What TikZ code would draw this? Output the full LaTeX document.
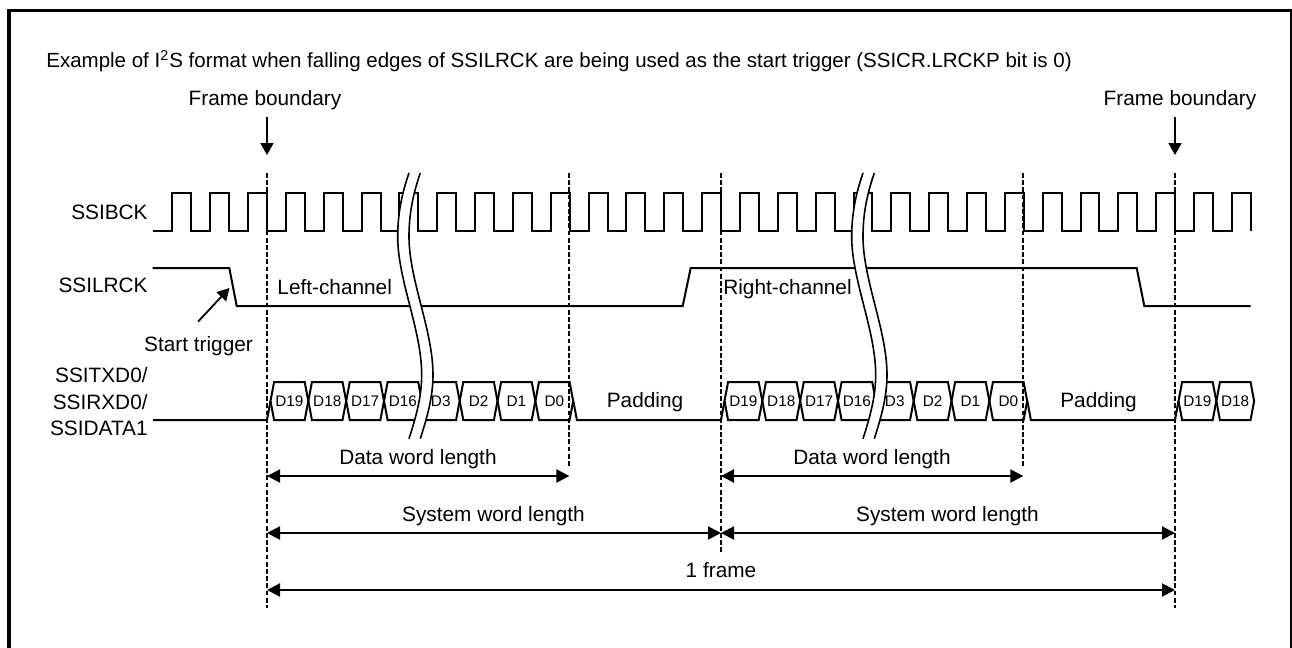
\documentclass[tikz,border=0pt]{standalone}
\usepackage{fontspec}
\setmainfont{Liberation Sans}
\usetikzlibrary{arrows.meta, positioning}
\tikzset{
  lab/.style={font=\fontsize{10.4}{13}\selectfont, inner sep=0pt, text height=7.5pt, text depth=0pt},
  dlab/.style={font=\fontsize{7.65}{9}\selectfont, inner sep=0pt, text height=5.5pt, text depth=0pt},
  wave/.style={line width=1pt, line join=miter},
  guide/.style={line width=1pt, dash pattern=on 2.4pt off 1.2pt},
  dimarrow/.style={line width=1pt, {Triangle[length=6.5pt,width=6.5pt]}-{Triangle[length=6.5pt,width=6.5pt]}},
  downarrow/.style={line width=0.9pt, -{Triangle[length=6pt,width=6.5pt]}},
}
\begin{document}
\begin{tikzpicture}[x=0.5pt, y=-0.5pt]
  \useasboundingbox (0,0) rectangle (1292,648);
  % outer frame
  \draw[line width=1.8pt] (9,10.5) rectangle (1291.5,660);

  % title
  \node[lab, font=\fontsize{10.25}{13}\selectfont, anchor=west] (title) at (46,60) {Example of I\textsuperscript{2}S format when falling edges of SSILRCK are being used as the start trigger (SSICR.LRCKP bit is 0)};

  % guide lines
  \foreach \gname/\gx/\gy in {A/267/608, B/569.4/467, C/721/552.7, D/1023.4/467, E/1175/608} {
    \coordinate (top\gname) at (\gx,173);
    \coordinate (bot\gname) at (\gx,\gy);
    \draw[guide] (top\gname) -- (bot\gname);
  }

  % frame boundary
  \node[lab] (fbleft) at (265,98) {Frame boundary};
  \node[lab] (fbright) at (1180,98) {Frame boundary};
  \coordinate (fbleftend) at (267,155);
  \coordinate (fbrightend) at (1175,155);
  \draw[downarrow] (fbleftend |- 0,116.5) -- (fbleftend);
  \draw[downarrow] (fbrightend |- 0,116.5) -- (fbrightend);

  % SSIBCK
  \node[lab, anchor=east] (bck) at (148,211.5) {SSIBCK};
  \draw[wave] (152.7,230.7) foreach \n in {-5,-3,...,51} {
    -- (267+18.92*\n,230.7) -- (267+18.92*\n,192.7)
    -- (267+18.92*\n+18.92,192.7) -- (267+18.92*\n+18.92,230.7) };

  % SSILRCK
  \node[lab, anchor=east] (lrck) at (148,284.5) {SSILRCK};
  \draw[wave] (152.7,268) -- (229.3,268) -- (236.7,306) -- (682.7,306) -- (690.7,268)
    -- (1136.7,268) -- (1144.3,306) -- (1250.7,306);

  % start trigger
  \node[lab] (trigger) at (198.5,343.5) {Start trigger};
  \coordinate (triggerfrom) at (198,321.7);
  \coordinate (triggerto) at (229.5,288);
  \draw[downarrow] (triggerfrom) -- (triggerto);

  % data line
  \node[lab, anchor=east] (txd) at (148,375) {SSITXD0/};
  \node[lab, anchor=east] (rxd) at (148,401.7) {SSIRXD0/};
  \node[lab, anchor=east] (data) at (148,428.4) {SSIDATA1};
  \draw[wave] (153,420) -- (267,420) -- (270.5,401);
  \foreach \bx in {0,454} {
    \foreach \i in {0,...,7} {
      \draw[wave] (270.5+\bx+37.84*\i,401) -- (274.1+\bx+37.84*\i,382) -- (304.7+\bx+37.84*\i,382)
        -- (308.3+\bx+37.84*\i,401) -- (304.7+\bx+37.84*\i,420) -- (274.1+\bx+37.84*\i,420) -- cycle;
    }
    \draw[wave] (573.3+\bx,401) -- (576.9+\bx,420) -- (721+\bx,420) -- (724.5+\bx,401);
  }
  \foreach \i in {0,1} {
    \draw[wave] (1178.5+37.84*\i,401) -- (1182.1+37.84*\i,382) -- (1212.7+37.84*\i,382)
      -- (1216.3+37.84*\i,401) -- (1212.7+37.84*\i,420) -- (1182.1+37.84*\i,420) -- cycle;
  }

  % wave break
  \foreach \bx in {0,454} {
    \begin{scope}[xshift={\bx*0.5pt}]
      \foreach \off/\col/\wd in {5.65/white/5.2pt, 0/black/0.8pt, 11.3/black/0.8pt} {
        \draw[\col, line width=\wd] (409+\off,173) .. controls (401+\off,196) and (397.7+\off,216) .. (397.7+\off,236.7)
          .. controls (397.7+\off,280) and (421.7+\off,330) .. (421.7+\off,375)
          .. controls (421.7+\off,398) and (415+\off,420) .. (409+\off,438.7);
      }
    \end{scope}
  }

  % channel labels
  \node[lab] (leftch) at (334.7,286.7) {Left-channel};
  \node[lab] (rightch) at (787.5,286.7) {Right-channel};

  % bit labels
  \foreach \bx/\bn in {0/a, 454/b} {
    \foreach \i/\t in {0/D19, 1/D18, 2/D17, 3/D16, 4/D3, 5/D2, 6/D1, 7/D0} {
      \node[dlab] (\t\bn) at (289.4+\bx+37.84*\i,401) {\t};
    }
  }
  \node[dlab] (D19c) at (1197.4,401) {D19};
  \node[dlab] (D18c) at (1235.2,401) {D18};
  \node[lab] (paddinga) at (645,400) {Padding};
  \node[lab] (paddingb) at (1098.5,400) {Padding};

  % lengths
  \coordinate (rowdata) at (0,476);
  \coordinate (rowsys) at (0,533);
  \coordinate (rowframe) at (0,590);
  \draw[dimarrow] (topA |- rowdata) -- (topB |- rowdata);
  \draw[dimarrow] (topC |- rowdata) -- (topD |- rowdata);
  \draw[dimarrow] (topA |- rowsys) -- (topC |- rowsys);
  \draw[dimarrow] (topC |- rowsys) -- (topE |- rowsys);
  \draw[dimarrow] (topA |- rowframe) -- (topE |- rowframe);
  \node[lab] (dwla) at (418,456.7) {Data word length};
  \node[lab] (dwlb) at (872,456.7) {Data word length};
  \node[lab] (swla) at (493.5,513.6) {System word length};
  \node[lab] (swlb) at (947.5,513.6) {System word length};
  \node[lab] (oneframe) at (721,570) {1 frame};
\end{tikzpicture}
\end{document}
